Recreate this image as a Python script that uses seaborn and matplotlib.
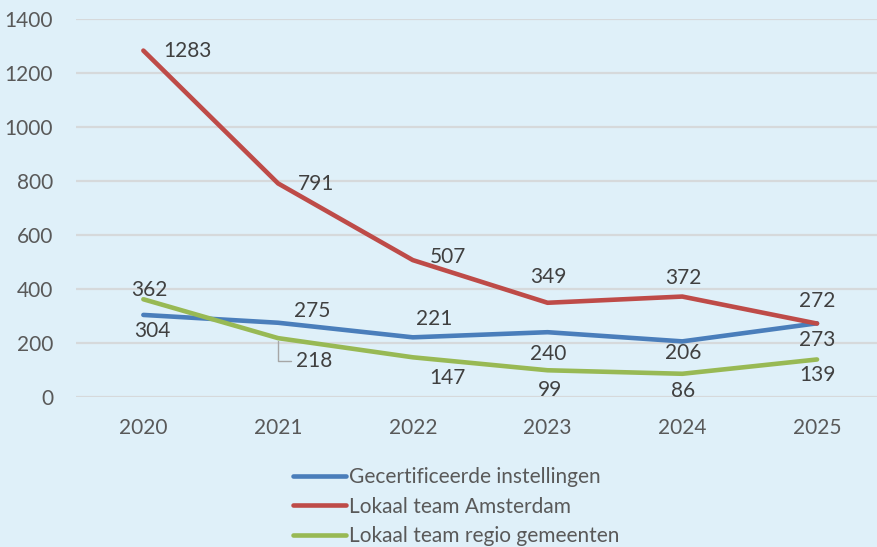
import numpy as np
import pandas as pd
import matplotlib
matplotlib.use("Agg")
import matplotlib.pyplot as plt
import seaborn as sns

years = ["2020", "2021", "2022", "2023", "2024", "2025"]
series_names = ["Gecertificeerde instellingen", "Lokaal team Amsterdam", "Lokaal team regio gemeenten"]
gecertificeerd = [304, 275, 221, 240, 206, 273]
amsterdam = [1283, 791, 507, 349, 372, 272]
regio = [362, 218, 147, 99, 86, 139]

colors = ["#4a7ebb", "#be4b48", "#98b954"]
bg = "#dff0f9"
txt = "#595959"

# label offsets in pixels (layout only)
offsets = {
    series_names[0]: [(9, -16), (34, 12), (21, 18), (1, -22), (1, -12), (0, -17)],
    series_names[1]: [(44, 0), (38, -1), (35, 3), (1, 26), (1, 19), (0, 23)],
    series_names[2]: [(6, 9), (36, -23), (35, -21), (2, -20), (1, -17), (0, -16)],
}

rows = []
for name, vals in zip(series_names, [gecertificeerd, amsterdam, regio]):
    for i, v in enumerate(vals):
        rows.append({"idx": i, "jaar": years[i], "waarde": v, "serie": name})
df = pd.DataFrame(rows)

sns.set_style("white")
plt.rcParams["font.family"] = ["Lato", "DejaVu Sans"]
fs = 15

fig = plt.figure(figsize=(8.77, 5.47), dpi=100, facecolor=bg)
ax = fig.add_axes([76 / 877, 1 - 397 / 547, 1 - 76 / 877, 378 / 547])
ax.set_facecolor(bg)

sns.lineplot(data=df, x="idx", y="waarde", hue="serie", palette=colors,
             linewidth=3.3, ax=ax, legend=True)

ax.set_ylim(0, 1400)
ax.set_yticks(range(0, 1401, 200))
ax.set_xlim(-0.5, (877 - 143) / 134.8)
ax.set_xticks(range(len(years)))
ax.set_xticklabels(years)
ax.set_xlabel("")
ax.set_ylabel("")
ax.grid(axis="y", color="#d6d9db", linewidth=1.6)
ax.set_axisbelow(True)
for s in ax.spines.values():
    s.set_visible(False)
ax.tick_params(axis="both", length=0, labelsize=fs, colors=txt)
ax.tick_params(axis="y", pad=16.5)
ax.tick_params(axis="x", pad=15)
for l in ax.get_lines():
    l.set_solid_capstyle("round")
    l.set_solid_joinstyle("round")

for name, vals in zip(series_names, [gecertificeerd, amsterdam, regio]):
    for i, v in enumerate(vals):
        dx, dy = offsets[name][i]
        if name == series_names[2] and i == 1:
            ax.annotate(str(v), xy=(i, v), xytext=(dx, dy), textcoords="offset pixels",
                        ha="center", va="center", fontsize=fs, color="#404040",
                        arrowprops=dict(arrowstyle="-", color="#a6a6a6", lw=1,
                                        connectionstyle="angle,angleA=0,angleB=90,rad=0",
                                        shrinkA=1, shrinkB=2))
        else:
            ax.annotate(str(v), xy=(i, v), xytext=(dx, dy), textcoords="offset pixels",
                        ha="center", va="center", fontsize=fs, color="#404040")

handles, labels = ax.get_legend_handles_labels()
ax.get_legend().remove()
for h in handles:
    h.set_linewidth(3.3)
    h.set_solid_capstyle("round")
leg = fig.legend(handles, labels, loc="upper left", bbox_to_anchor=(285 / 877, 1 - 459 / 547),
                 frameon=False, fontsize=fs, handlelength=2.55, handletextpad=0.1,
                 labelspacing=0.45, borderaxespad=0)
for t in leg.get_texts():
    t.set_color(txt)

fig.savefig("out.png", dpi=100, facecolor=bg)
